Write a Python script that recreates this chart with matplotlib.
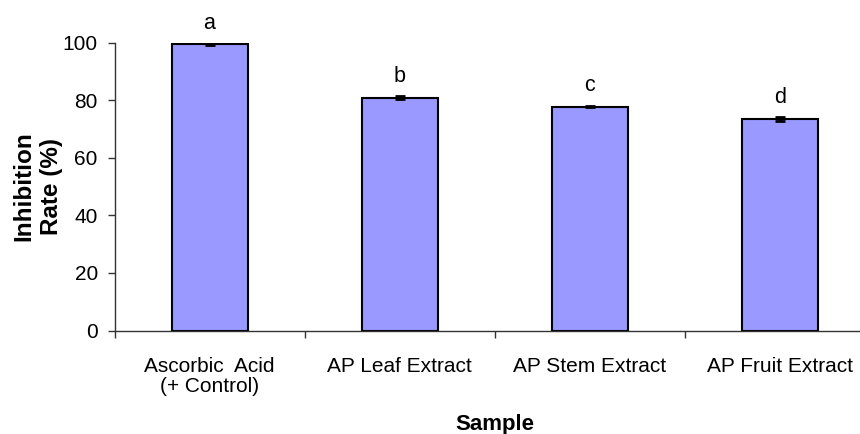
import matplotlib
matplotlib.use("Agg")
import matplotlib.pyplot as plt
import numpy as np

categories = ["Ascorbic  Acid\n(+ Control)", "AP Leaf Extract", "AP Stem Extract", "AP Fruit Extract"]
values = [99.5, 80.9, 77.8, 73.5]
errors = [0.3, 0.5, 0.3, 0.6]
letters = ["a", "b", "c", "d"]
yticks = [0, 20, 40, 60, 80, 100]

plt.rcParams['font.family'] = ['Liberation Sans', 'DejaVu Sans']

W, H = 860, 434
fig = plt.figure(figsize=(W / 100, H / 100), dpi=100)
left_px, right_px = 114.5, 875.0
top_px, bottom_px = 42.7, 330.5
ax = fig.add_axes([left_px / W, (H - bottom_px) / H,
                   (right_px - left_px) / W, (bottom_px - top_px) / H])

x = np.arange(len(categories))
ax.bar(x, values, width=0.4, color='#9999FF', edgecolor='black', linewidth=1.5, zorder=2)
ax.errorbar(x, values, yerr=errors, fmt='none', ecolor='black', elinewidth=2,
            capsize=3.5, capthick=2, zorder=3)
for xi, v, e, l in zip(x, values, errors, letters):
    ax.text(xi, v + e + 5.0, l, ha='center', va='baseline', fontsize=15.5)

ax.set_xlim(-0.5, 3.5)
ax.set_ylim(0, 100)
ax.set_yticks(yticks)
ax.set_yticklabels([str(t) for t in yticks], fontsize=15)
ax.tick_params(axis='y', direction='out', length=5, width=1, pad=7, color='#333333')

ax.set_xticks(x)
ax.set_xticklabels(categories, fontsize=15, linespacing=1.1)
ax.set_xticks([-0.5, 0.5, 1.5, 2.5], minor=True)
ax.tick_params(axis='x', which='major', length=0, pad=19)
ax.tick_params(axis='x', which='minor', direction='out', length=5, width=1, color='#333333')

for s in ['top', 'right']:
    ax.spines[s].set_visible(False)
ax.spines['left'].set_color('#333333')
ax.spines['bottom'].set_color('#333333')
ax.spines['left'].set_linewidth(1)
ax.spines['bottom'].set_linewidth(1)

ax.set_ylabel("Inhibition\nRate (%)", fontsize=17.5, fontweight='bold', linespacing=1.25)
ax.yaxis.set_label_coords(-0.068, 0.5)
ax.set_xlabel("Sample", fontsize=16, fontweight='bold')
ax.xaxis.set_label_coords(0.5, -0.29)

fig.savefig("out.png", dpi=100)
